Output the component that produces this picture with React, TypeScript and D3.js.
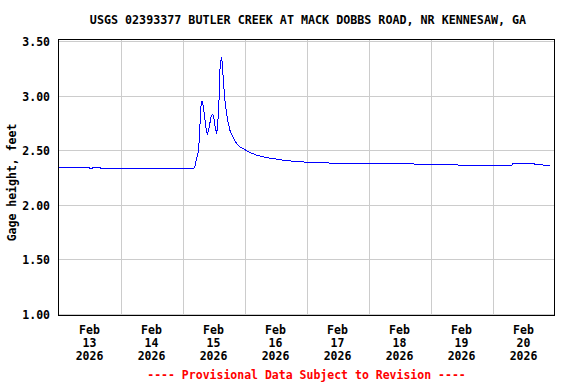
import { line, range, scaleLinear, scaleTime, timeParse } from "d3";

const parse = timeParse("%Y-%m-%d %H:%M");

// gage height readings (feet)
const times = [
  "2026-02-13 00:00", "2026-02-13 12:00", "2026-02-13 12:15", "2026-02-13 13:00",
  "2026-02-13 13:15", "2026-02-13 16:15", "2026-02-13 16:30", "2026-02-15 04:00",
  "2026-02-15 04:45", "2026-02-15 05:30", "2026-02-15 06:15", "2026-02-15 06:45",
  "2026-02-15 07:15", "2026-02-15 07:30", "2026-02-15 08:00", "2026-02-15 08:30",
  "2026-02-15 09:00", "2026-02-15 09:30", "2026-02-15 09:45", "2026-02-15 10:15",
  "2026-02-15 11:00", "2026-02-15 11:30", "2026-02-15 12:00", "2026-02-15 12:30",
  "2026-02-15 13:15", "2026-02-15 14:00", "2026-02-15 14:30", "2026-02-15 15:00",
  "2026-02-15 15:15", "2026-02-15 15:45", "2026-02-15 16:15", "2026-02-15 16:45",
  "2026-02-15 17:30", "2026-02-15 18:30", "2026-02-15 19:45", "2026-02-15 21:00",
  "2026-02-15 22:15", "2026-02-15 23:45", "2026-02-16 02:00", "2026-02-16 05:15",
  "2026-02-16 09:15", "2026-02-16 14:30", "2026-02-16 18:15", "2026-02-17 00:00",
  "2026-02-17 11:45", "2026-02-18 12:15", "2026-02-18 20:30", "2026-02-19 21:45",
  "2026-02-20 07:30", "2026-02-20 08:00", "2026-02-20 15:45", "2026-02-20 16:30",
  "2026-02-20 22:15",
];
const gage = [
  2.34, 2.34, 2.33, 2.33,
  2.34, 2.34, 2.33, 2.33,
  2.34, 2.43, 2.50, 2.73,
  2.94, 2.95, 2.91, 2.82,
  2.71, 2.66, 2.65, 2.70,
  2.80, 2.83, 2.82, 2.73,
  2.65, 2.85, 3.24, 3.35,
  3.33, 3.17, 3.00, 2.89,
  2.77, 2.67, 2.61, 2.56,
  2.53, 2.51, 2.48, 2.45,
  2.43, 2.41, 2.40, 2.39,
  2.38, 2.38, 2.37, 2.36,
  2.36, 2.38, 2.38, 2.37,
  2.36,
];

const yTicks = [1.0, 1.5, 2.0, 2.5, 3.0, 3.5];
const dayLabels = ["13", "14", "15", "16", "17", "18", "19", "20"];
const title = "USGS 02393377 BUTLER CREEK AT MACK DOBBS ROAD, NR KENNESAW, GA";

export default function App() {
  const W = 576, H = 384;
  const left = 58.5, right = 554.5, top = 39.5, bottom = 315.5;

  const x = scaleTime()
    .domain([parse("2026-02-13 00:00")!, parse("2026-02-21 00:00")!])
    .range([left, right]);
  const y = scaleLinear().domain([1, 3.5]).range([314, 41]);

  const data = times.map((t, i) => [parse(t)!, gage[i]] as [Date, number]);
  const path = line<[Date, number]>()
    .x(d => x(d[0]))
    .y(d => y(d[1]))(data);

  const midnights = range(1, 8).map(i => new Date(2026, 1, 13 + i));
  const font = "'DejaVu Sans Mono', monospace";

  return (
    <svg width={W} height={H} style={{ position: "absolute", left: 0, top: 0, background: "#fff" }}
      fontFamily={font} fontWeight="bold">
      <rect width={W} height={H} fill="#fff" />
      <text x={308} y={23.5} fontSize={11.7} textAnchor="middle">{title}</text>

      <g shapeRendering="crispEdges" stroke="#cccccc">
        {yTicks.map(v => (
          <line key={v} x1={left} x2={right} y1={Math.round(y(v)) + 0.5} y2={Math.round(y(v)) + 0.5} />
        ))}
        {midnights.map(d => (
          <line key={+d} x1={Math.round(x(d)) + 0.5} x2={Math.round(x(d)) + 0.5} y1={top} y2={bottom} />
        ))}
      </g>

      <path d={path ?? ""} fill="none" stroke="#0000ff" strokeWidth={1} shapeRendering="crispEdges" />

      <rect x={left} y={top} width={right - left} height={bottom - top}
        fill="none" stroke="#000" strokeWidth={1} shapeRendering="crispEdges" />

      {yTicks.map(v => (
        <text key={v} x={50} y={y(v) + 1} dy="0.35em" fontSize={11.5} textAnchor="end">
          {v.toFixed(2)}
        </text>
      ))}

      <text transform={`translate(16,${(top + bottom) / 2 + 5}) rotate(-90)`} fontSize={11.5} textAnchor="middle">
        Gage height, feet
      </text>

      {dayLabels.map((lab, i) => {
        const cx = x(new Date(2026, 1, 13 + i, 12));
        return (
          <text key={lab} x={cx} fontSize={11.5} textAnchor="middle">
            <tspan x={cx} y={334}>Feb</tspan>
            <tspan x={cx} y={347}>{lab}</tspan>
            <tspan x={cx} y={360}>2026</tspan>
          </text>
        );
      })}

      <text x={(left + right) / 2} y={379} fontSize={11.5} textAnchor="middle" fill="#ff0000">
        ---- Provisional Data Subject to Revision ----
      </text>
    </svg>
  );
}
